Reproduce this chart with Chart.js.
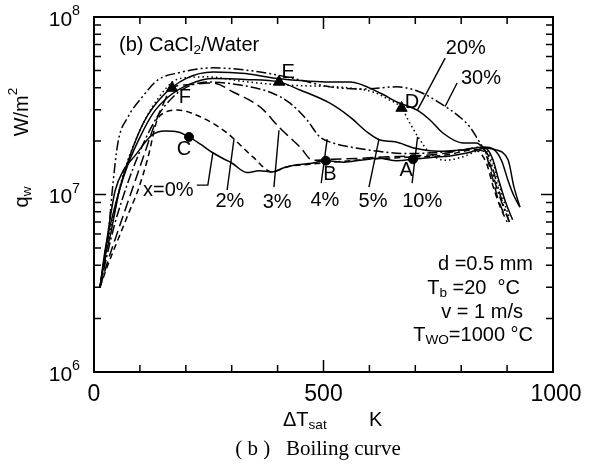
<!DOCTYPE html>
<html>
<head>
<meta charset="utf-8">
<script src="https://cdn.jsdelivr.net/npm/chart.js@4.4.0/dist/chart.umd.min.js"></script>
<style>
body{margin:0;background:#fff}
</style>
</head>
<body>
<canvas id="boil" width="596" height="470"></canvas>
<script>
// boiling curves, CaCl2/water, one curve per concentration
const dT0 = [13, 22, 32, 46, 65, 89, 126, 155, 183, 207, 232, 257, 280, 301, 333, 360, 388, 415, 442, 475, 505, 545, 580, 620, 660, 695, 740, 776, 815, 852, 868, 882, 897, 912]
const q0 = [3.0e6, 4.2e6, 6.5e6, 1.05e7, 1.38e7, 1.65e7, 2.16e7, 2.28e7, 2.25e7, 2.11e7, 1.92e7, 1.73e7, 1.60e7, 1.50e7, 1.33e7, 1.36e7, 1.34e7, 1.42e7, 1.47e7, 1.50e7, 1.55e7, 1.52e7, 1.56e7, 1.60e7, 1.55e7, 1.58e7, 1.62e7, 1.65e7, 1.72e7, 1.82e7, 1.6e7, 1.2e7, 9.0e6, 7.2e6]

const dT2 = [13, 30, 55, 75, 96, 118, 137, 155, 181, 237, 290, 346, 388, 420, 470, 520, 600, 680, 760, 830, 855, 870, 885, 900]
const q2 = [3.0e6, 4.0e6, 5.8e6, 7.8e6, 1.06e7, 1.63e7, 2.6e7, 2.9e7, 2.99e7, 2.70e7, 2.22e7, 1.63e7, 1.34e7, 1.43e7, 1.48e7, 1.52e7, 1.58e7, 1.62e7, 1.66e7, 1.78e7, 1.5e7, 1.1e7, 8.5e6, 7.0e6]

const dT3 = [13, 30, 50, 70, 90, 110, 130, 150, 170, 203, 259, 303, 362, 405, 449, 477, 520, 580, 640, 700, 760, 820, 850, 866, 880, 893]
const q3 = [3.0e6, 4.2e6, 6.0e6, 8.5e6, 1.2e7, 1.7e7, 2.4e7, 3.2e7, 3.98e7, 4.15e7, 4.25e7, 3.78e7, 3.11e7, 2.37e7, 1.85e7, 1.56e7, 1.58e7, 1.60e7, 1.63e7, 1.65e7, 1.70e7, 1.80e7, 1.75e7, 1.3e7, 9.5e6, 7.8e6]

const dT4 = [13, 28, 45, 65, 85, 110, 140, 170, 200, 250, 318, 388, 427, 464, 492, 521, 560, 620, 680, 740, 800, 845, 862, 877, 892, 905]
const q4 = [3.0e6, 4.5e6, 6.8e6, 1.0e7, 1.4e7, 2.0e7, 2.8e7, 3.5e7, 4.0e7, 4.3e7, 4.14e7, 3.73e7, 3.27e7, 2.63e7, 2.11e7, 1.95e7, 1.85e7, 1.75e7, 1.70e7, 1.72e7, 1.78e7, 1.85e7, 1.5e7, 1.1e7, 8.5e6, 7.0e6]

const dT5 = [13, 25, 40, 55, 75, 100, 130, 165, 210, 260, 330, 403, 449, 514, 558, 595, 623, 656, 700, 750, 800, 850, 870, 888, 902, 915, 928]
const q5 = [3.0e6, 5.0e6, 7.5e6, 1.05e7, 1.5e7, 2.1e7, 2.9e7, 3.6e7, 4.2e7, 4.5e7, 4.45e7, 4.31e7, 3.88e7, 3.27e7, 2.73e7, 2.25e7, 2.03e7, 1.98e7, 1.82e7, 1.75e7, 1.78e7, 1.85e7, 1.8e7, 1.55e7, 1.2e7, 9.8e6, 8.5e6]

const dT10 = [13, 25, 40, 60, 90, 130, 187, 250, 320, 405, 455, 551, 608, 640, 670, 688, 706, 732, 765, 800, 852, 868, 882, 895, 906]
const q10 = [3.0e6, 4.8e6, 7.0e6, 1.2e7, 2.0e7, 3.2e7, 4.5e7, 4.6e7, 4.35e7, 4.15e7, 4.1e7, 4.0e7, 3.78e7, 3.45e7, 3.07e7, 2.53e7, 2.11e7, 1.71e7, 1.56e7, 1.62e7, 1.80e7, 1.55e7, 1.15e7, 8.8e6, 7.3e6]

const dT20 = [13, 22, 35, 55, 80, 110, 150, 200, 260, 330, 400, 470, 514, 558, 623, 660, 704, 732, 760, 804, 834, 847, 870, 902, 915, 928]
const q20 = [3.0e6, 4.2e6, 5.8e6, 1.05e7, 1.7e7, 2.6e7, 3.6e7, 4.5e7, 4.9e7, 4.8e7, 4.5e7, 4.35e7, 4.31e7, 4.31e7, 3.73e7, 3.32e7, 2.99e7, 2.63e7, 2.22e7, 1.95e7, 1.95e7, 1.85e7, 1.8e7, 1.57e7, 1.1e7, 8.5e6]

const dT30 = [13, 30, 39, 52, 74, 105, 139, 183, 259, 362, 449, 514, 586, 660, 710, 754, 797, 819, 837, 847, 862, 876, 890, 905]
const q30 = [3.0e6, 5.5e6, 1.0e7, 1.95e7, 2.73e7, 3.54e7, 4.42e7, 4.84e7, 5.17e7, 4.9e7, 4.42e7, 4.04e7, 3.93e7, 4.04e7, 3.78e7, 3.27e7, 2.73e7, 2.40e7, 2.03e7, 1.85e7, 1.6e7, 1.2e7, 9.0e6, 7.0e6]

const seriesNames = ['x=0%', '2%', '3%', '4%', '5%', '10%', '20%', '30%']

// marked points A-F
const pointNames = ['A', 'B', 'C', 'D', 'E', 'F']
const pointDT = [695, 505, 207, 670, 403, 170]
const pointQ = [1.58e7, 1.55e7, 2.11e7, 3.07e7, 4.31e7, 3.98e7]

const xTicks = [0, 500, 1000]
const yTicks = [1e6, 1e7, 1e8]

const FONT = '"Liberation Sans", Arial, sans-serif'

function pts(xs, ys){ return xs.map((x, i) => ({x: x, y: ys[i]})) }

const curveData = [[dT0,q0],[dT2,q2],[dT3,q3],[dT4,q4],[dT5,q5],[dT10,q10],[dT20,q20],[dT30,q30]]
const dashes = [[], [6,4], [11,5], [10,3,2,3], [], [1.5,3], [], [10,3,2,3,2,3]]

const datasets = curveData.map((c, i) => ({
  label: seriesNames[i],
  data: pts(c[0], c[1]),
  borderColor: '#000',
  borderWidth: 1.5,
  borderDash: dashes[i],
  pointRadius: 0,
  fill: false,
  cubicInterpolationMode: 'monotone'
}))

datasets.push({
  type: 'scatter',
  label: 'points',
  data: pts(pointDT, pointQ),
  pointStyle: ['circle','circle','circle','triangle','triangle','triangle'],
  pointRadius: [4.5,4.5,4.5,6.5,6.5,6.5],
  backgroundColor: '#000',
  borderColor: '#000',
  showLine: false
})

// label placement (data coordinates) and leader lines
const nameSpots = [
  {at:[162,1.06e7], lead:[[224,1.13e7],[248,1.13e7],[259,1.72e7]]},
  {at:[296,9.08e6], lead:[[290,1.06e7],[305,2.05e7]]},
  {at:[399,8.96e6], lead:[[392,1.10e7],[403,2.3e7]]},
  {at:[503,9.31e6], lead:[[495,1.16e7],[508,2.05e7]]},
  {at:[608,9.08e6], lead:[[599,1.10e7],[621,2.06e7]]},
  {at:[715,9.08e6], lead:[[693,1.16e7],[705,2.11e7]]},
  {at:[810,6.68e7], lead:[[765,5.87e7],[705,3.0e7]]},
  {at:[843,4.53e7], lead:[[791,4.25e7],[765,3.13e7]]}
]
const letterSpots = [[680,1.37e7],[514,1.29e7],[196,1.80e7],[693,3.32e7],[423,4.84e7],[198,3.54e7]]

function runs(ctx, parts, x, y, size, align, family){
  const fam = family || FONT
  let w = 0
  parts.forEach(p => { ctx.font = (p[1] ? size*0.68 : size) + 'px ' + fam; w += ctx.measureText(p[0]).width })
  let cx = align === 'right' ? x - w : align === 'center' ? x - w/2 : x
  parts.forEach(p => {
    const s = p[1] ? size*0.68 : size
    ctx.font = s + 'px ' + fam
    const dy = p[1] === 1 ? -size*0.42 : p[1] === -1 ? size*0.28 : 0
    ctx.fillText(p[0], cx, y + dy)
    cx += ctx.measureText(p[0]).width
  })
}

const decorate = {
  id: 'decorate',
  afterDraw(chart){
    const ctx = chart.ctx, xs = chart.scales.x, ys = chart.scales.y, a = chart.chartArea
    const px = v => xs.getPixelForValue(v), py = v => ys.getPixelForValue(v)
    ctx.save()
    ctx.strokeStyle = '#000'
    ctx.fillStyle = '#000'
    ctx.setLineDash([])

    // frame
    ctx.lineWidth = 2
    ctx.strokeRect(a.left, a.top, a.right - a.left, a.bottom - a.top)

    // inward ticks
    ctx.lineWidth = 1.5
    ctx.beginPath()
    for (let d = 6; d < 8; d++) {
      for (let m = 1; m <= 10; m++) {
        const y = py(m * Math.pow(10, d))
        const len = (m === 1 || m === 10) ? 12 : 7
        ctx.moveTo(a.left, y); ctx.lineTo(a.left + len, y)
        ctx.moveTo(a.right, y); ctx.lineTo(a.right - len, y)
      }
    }
    for (let v = 100; v < 1000; v += 100) {
      const x = px(v)
      const len = v === 500 ? 12 : 7
      ctx.moveTo(x, a.bottom); ctx.lineTo(x, a.bottom - len)
      ctx.moveTo(x, a.top); ctx.lineTo(x, a.top + len)
    }
    ctx.stroke()

    // tick labels
    ctx.textBaseline = 'middle'
    ctx.textAlign = 'left'
    yTicks.forEach(v => {
      runs(ctx, [['10',0],[String(Math.round(Math.log10(v))),1]], a.left - 14, py(v) + 3, 21, 'right')
    })
    xTicks.forEach(v => {
      runs(ctx, [[String(v),0]], px(v) + (v === 1000 ? 3 : 0), a.bottom + 23, 23, 'center')
    })

    // axis titles
    runs(ctx, [['\u0394T',0],['sat',-1]], 283, a.bottom + 48, 20, 'left')
    runs(ctx, [['K',0]], 369, a.bottom + 48, 20, 'left')
    ctx.save()
    ctx.translate(22, 197)
    ctx.rotate(-Math.PI/2)
    runs(ctx, [['q',0],['w',-1]], 0, 0, 20, 'center')
    ctx.restore()
    ctx.save()
    ctx.translate(22, 112)
    ctx.rotate(-Math.PI/2)
    runs(ctx, [['W/m',0],['2',1]], 0, 0, 20, 'center')
    ctx.restore()

    // caption
    runs(ctx, [['( b )   Boiling curve',0]], 318, a.bottom + 77, 21, 'center', '"Liberation Serif", serif')

    // panel title
    runs(ctx, [['(b) CaCl',0],['2',-1],['/Water',0]], a.left + 25, a.top + 28, 20, 'left')

    // test conditions
    const rx = a.right - 20
    runs(ctx, [['d =0.5 mm',0]], rx, 264, 20, 'right')
    runs(ctx, [['T',0],['b',-1],[' =20  \u00B0C',0]], rx - 13, 288, 20, 'right')
    runs(ctx, [['v = 1 m/s',0]], rx - 10, 312, 20, 'right')
    runs(ctx, [['T',0],['WO',-1],['=1000 \u00B0C',0]], rx, 335, 20, 'right')

    // concentration labels with leaders
    ctx.lineWidth = 1.4
    nameSpots.forEach((s, i) => {
      runs(ctx, [[seriesNames[i],0]], px(s.at[0]), py(s.at[1]), 20, 'center')
      ctx.beginPath()
      s.lead.forEach((p, k) => { k ? ctx.lineTo(px(p[0]), py(p[1])) : ctx.moveTo(px(p[0]), py(p[1])) })
      ctx.stroke()
    })

    // point letters
    letterSpots.forEach((s, i) => {
      runs(ctx, [[pointNames[i],0]], px(s[0]), py(s[1]), 20, 'center')
    })
    ctx.restore()
  }
}

new Chart(document.getElementById('boil'), {
  type: 'line',
  data: {datasets: datasets},
  options: {
    responsive: false,
    animation: false,
    layout: {padding: {left: 94, right: 43, top: 17, bottom: 98}},
    plugins: {legend: {display: false}, tooltip: {enabled: false}},
    scales: {
      x: {type: 'linear', min: 0, max: 1000, display: false},
      y: {type: 'logarithmic', min: 1e6, max: 1e8, display: false}
    }
  },
  plugins: [decorate]
})
</script>
</body>
</html>
